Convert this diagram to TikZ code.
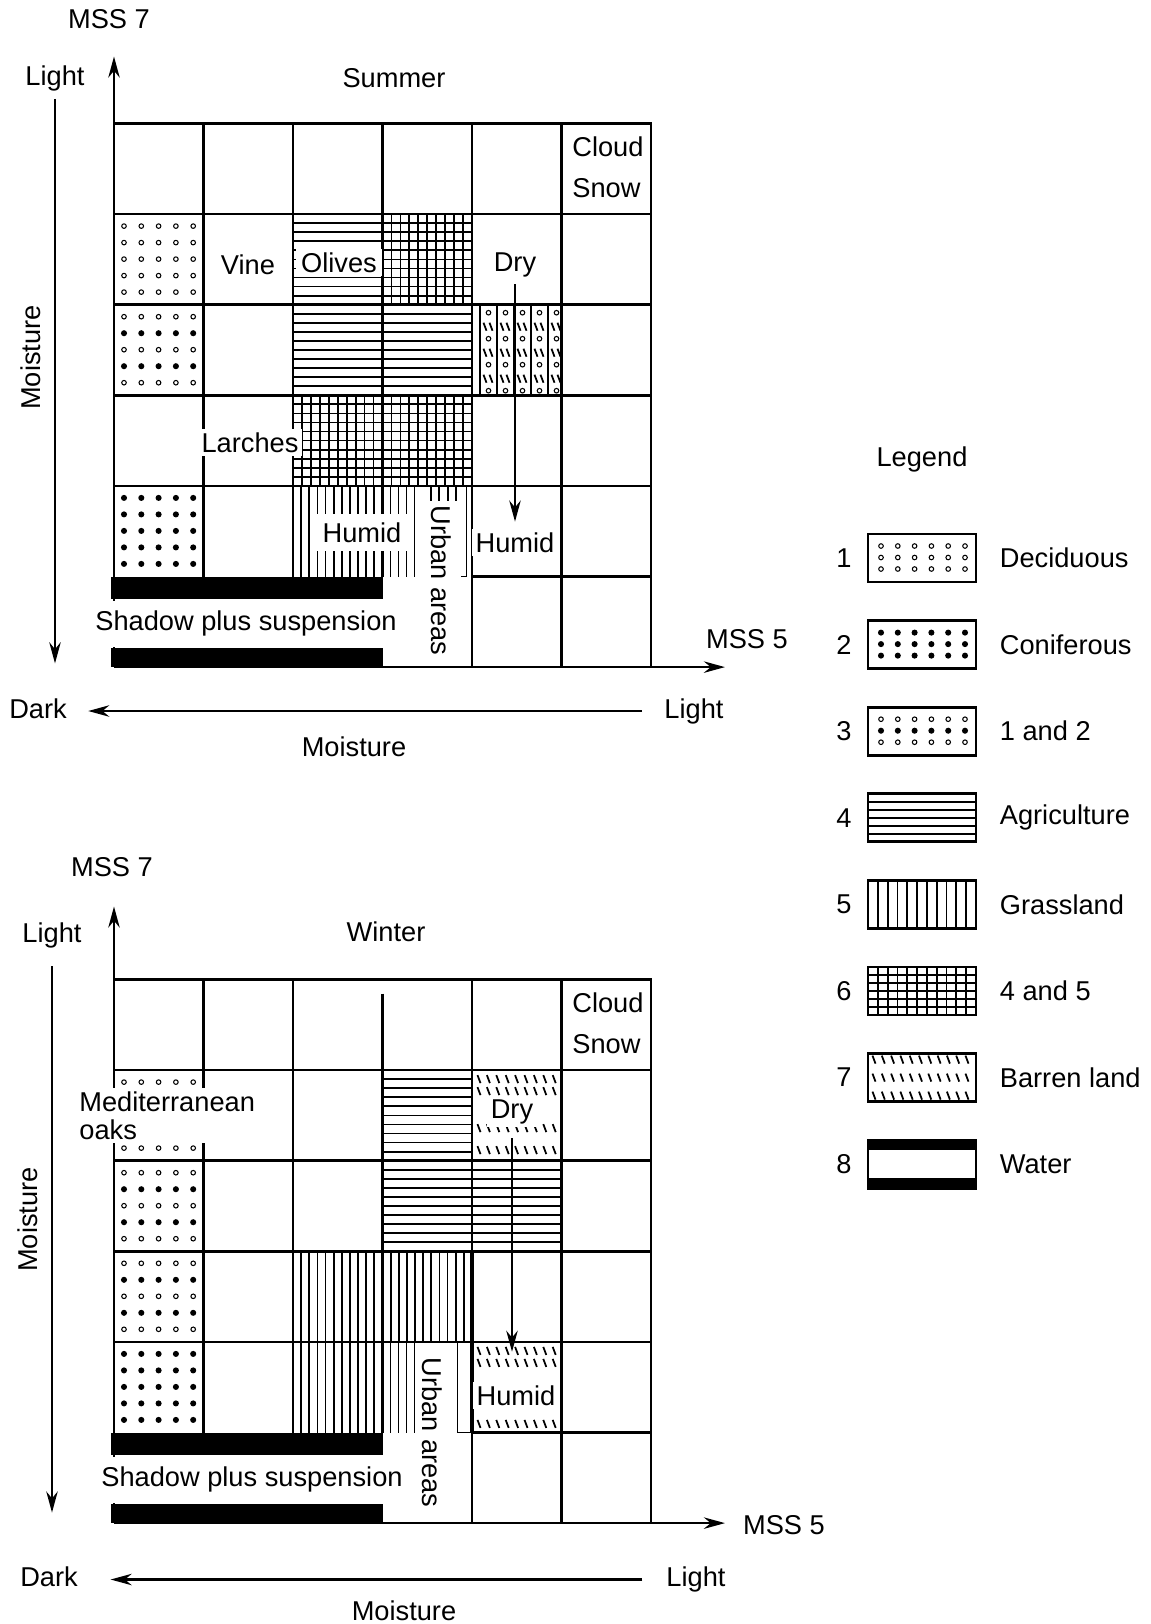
\documentclass[tikz,border=0pt]{standalone}
\usepackage{fontspec}
\setmainfont{Liberation Sans}
\usetikzlibrary{arrows.meta, positioning}

% size of one grid cell (both plots)
\newcommand{\cellw}{89.5}
\newcommand{\cellh}{90.6}

% fill helpers: x0 y0 x1 y1 n
\newcommand{\hpat}[5]{%
  \foreach \k in {1,...,#5}
    \draw[hatch] ({#1},{(#2)+((#4)-(#2))*\k/(#5+1)}) -- ({#3},{(#2)+((#4)-(#2))*\k/(#5+1)});}
\newcommand{\vpat}[5]{%
  \foreach \k in {1,...,#5}
    \draw[hatch] ({(#1)+((#3)-(#1))*\k/(#5+1)},{#2}) -- ({(#1)+((#3)-(#1))*\k/(#5+1)},{#4});}
% x0 y0 dx dy ncol nrow style
\newcommand{\dotpat}[7]{%
  \foreach \i in {1,...,#5}
    \foreach \j in {1,...,#6}
      \path[#7] ({(#1)+(#3)*(\i-1)},{(#2)+(#4)*(\j-1)}) circle (1.3pt);}
% x0 y0 dx ncol {row offsets}
\newcommand{\barpat}[5]{%
  \foreach \yy in {#5}
    \foreach \i in {1,...,#4}
      \draw[barren] ({(#1)+(#3)*(\i-1)-1.5},{(#2)+\yy-4}) -- ++(3,8);}

% whole cells, by column and row
\newcommand{\agricell}[2]{\hpat{#1*\cellw}{#2*\cellh}{(#1+1)*\cellw}{(#2+1)*\cellh}{9}}
\newcommand{\grasscell}[2]{\vpat{#1*\cellw}{#2*\cellh}{(#1+1)*\cellw}{(#2+1)*\cellh}{10}}
\newcommand{\crosscell}[2]{\agricell{#1}{#2}\vpat{#1*\cellw}{#2*\cellh}{(#1+1)*\cellw}{(#2+1)*\cellh}{9}}
\newcommand{\decidcell}[2]{\dotpat{#1*\cellw+10}{#2*\cellh+12}{17.3}{16.5}{5}{5}{opendot}}
\newcommand{\conifcell}[2]{\dotpat{#1*\cellw+10}{#2*\cellh+12}{17.3}{16.5}{5}{5}{filldot}}
\newcommand{\mixcell}[2]{\dotpat{#1*\cellw+10}{#2*\cellh+12}{17.3}{33}{5}{3}{opendot}%
  \dotpat{#1*\cellw+10}{#2*\cellh+28.5}{17.3}{33}{5}{2}{filldot}}

\begin{document}
\begin{tikzpicture}[x=0.02cm, y=-0.02cm, >=Stealth,
    font=\fontsize{15.5}{18.6}\selectfont,
    gridline/.style={line width=1.4pt},
    hatch/.style={line width=1pt},
    barren/.style={line width=1pt},
    opendot/.style={draw, line width=0.6pt},
    filldot/.style={draw, fill, line width=0.8pt},
    lbl/.style={inner sep=2pt},
    whitebox/.style={fill=white},
    axlbl/.style={text height=11.5pt, text depth=3.3pt},
    axisarrow/.style={line width=1.4pt, -{Stealth[length=12pt, width=6.5pt]}},
    flowarrow/.style={line width=1.4pt, -{Stealth[length=12pt, width=6.5pt]}},
    keybox/.style={draw, line width=1.6pt, minimum width=2.16cm, minimum height=0.96cm}]
  \useasboundingbox (0,0) rectangle (1151,1624);

  % Summer
  \begin{scope}[shift={(114,123.5)}]
    \decidcell{0}{1}
    \mixcell{0}{2}
    \conifcell{0}{4}
    \agricell{2}{1}
    \agricell{2}{2}
    \agricell{3}{2}
    \crosscell{3}{1}
    \crosscell{2}{3}
    \crosscell{3}{3}
    \grasscell{2}{4}
    \vpat{3*\cellw}{4*\cellh}{3*\cellw+40}{5*\cellh}{4}
    \vpat{3*\cellw+40}{4*\cellh}{3*\cellw+82}{4*\cellh+15}{4}
    \draw[hatch] ({3*\cellw+84},{4*\cellh}) -- ({3*\cellw+84},{5*\cellh}) -- ++(-6,0);
    % barren land with deciduous
    \foreach \k in {0,...,4}
      \draw[hatch] ({4*\cellw+8+17*\k},{2*\cellh}) -- ++(0,\cellh);
    \dotpat{4*\cellw+16.5}{2*\cellh+8}{17}{26}{5}{4}{opendot}
    \barpat{4*\cellw+13}{2*\cellh}{17}{5}{22,48,74}
    \barpat{4*\cellw+19}{2*\cellh}{17}{5}{22,48,74}

    % grid
    \draw[gridline] (0,0) -- ({6*\cellw},0) -- ({6*\cellw},{6*\cellh});
    \foreach \j in {1,...,4}
      \draw[gridline] (0,{\j*\cellh}) -- ({6*\cellw},{\j*\cellh});
    \draw[gridline] ({4*\cellw},{5*\cellh}) -- ({6*\cellw},{5*\cellh});
    \foreach \i in {1,2,3}
      \draw[gridline] ({\i*\cellw},0) -- ({\i*\cellw},{5*\cellh});
    \foreach \i in {4,5}
      \draw[gridline] ({\i*\cellw},0) -- ({\i*\cellw},{6*\cellh});

    % water
    \fill (-3,{5*\cellh}) rectangle ({3*\cellw},{5*\cellh+22});
    \fill (-3,{6*\cellh-19}) rectangle ({3*\cellw},{6*\cellh});

    % axes
    \coordinate (o1) at (0,{6*\cellh});
    \coordinate (ytip1) at (0,-67);
    \coordinate (xtip1) at (611,{6*\cellh});
    \draw[axisarrow] (o1) -- (ytip1);
    \draw[axisarrow] (o1) -- (xtip1);

    % cell labels
    \node[lbl, align=left, anchor=west, font=\fontsize{15.5}{23.2}\selectfont] (cloud1) at (454.5,43.5) {Cloud\\Snow};
    \node[lbl] (vine1) at (134,141) {Vine};
    \node[lbl, whitebox, inner xsep=3pt] (olives1) at (225,139) {Olives};
    \node[lbl, whitebox] (dry1) at (401,141) {Dry};
    \node[lbl, whitebox] (larch1) at (136,319) {Larches};
    \node[lbl, whitebox, inner xsep=6pt, inner ysep=5pt] (humid1) at (248,409) {Humid};
    \node[lbl, whitebox] (humid2) at (401,419) {Humid};
    \node[lbl, whitebox, rotate=-90] (urban1) at (327,457) {Urban areas};
    \node[lbl, whitebox, minimum height=0.92cm] (shadow1) at (132,500) {Shadow plus suspension};
    \draw[flowarrow, shorten <=2pt, shorten >=4pt] (dry1) -- (humid2);

    % axis labels
    \node[lbl] (mss7a) at (-5,-104) {MSS 7};
    \node[lbl, axlbl] (ylight1) at (-59,-45) {Light};
    \node[lbl] (summer) at (280,-45) {Summer};
    \node[lbl, rotate=90] (vmoist1) at (-83,234) {Moisture};
    \node[lbl] (mss5a) at (633,516) {MSS 5};
    \node[lbl, axlbl] (dark1) at (-76,587.5) {Dark};
    \node[lbl, axlbl] (xlight1) at (580,587.5) {Light};
    \node[lbl] (hmoist1) at (240,623) {Moisture};
    \draw[axisarrow, shorten <=10.5pt, shorten >=10pt] (xlight1) -- (dark1);
    \draw[axisarrow, shorten <=2pt, shorten >=17.5pt] (ylight1) -- (ylight1 |- dark1.north);
  \end{scope}

  % Winter
  \begin{scope}[shift={(114,979.5)}]
    \decidcell{0}{1}
    \mixcell{0}{2}
    \mixcell{0}{3}
    \conifcell{0}{4}
    \agricell{3}{1}
    \agricell{3}{2}
    \agricell{4}{2}
    \barpat{4*\cellw+7}{\cellh}{9.4}{9}{9,21,58,80}
    \barpat{4*\cellw+7}{4*\cellh}{9.4}{9}{9,21,82}
    \grasscell{2}{3}
    \grasscell{3}{3}
    \grasscell{2}{4}
    \vpat{3*\cellw}{4*\cellh}{3*\cellw+40}{5*\cellh}{4}
    \draw[hatch] ({3*\cellw+75},{4*\cellh}) -- ({3*\cellw+75},{5*\cellh}) -- ({4*\cellw},{5*\cellh});

    % grid
    \draw[gridline] (0,0) -- ({6*\cellw},0) -- ({6*\cellw},{6*\cellh});
    \foreach \j in {1,...,4}
      \draw[gridline] (0,{\j*\cellh}) -- ({6*\cellw},{\j*\cellh});
    \draw[gridline] ({4*\cellw},{5*\cellh}) -- ({6*\cellw},{5*\cellh});
    \foreach \i in {1,2}
      \draw[gridline] ({\i*\cellw},0) -- ({\i*\cellw},{5*\cellh});
    \draw[gridline] ({3*\cellw},14) -- ({3*\cellw},{5*\cellh});
    \foreach \i in {4,5}
      \draw[gridline] ({\i*\cellw},0) -- ({\i*\cellw},{6*\cellh});
    \draw[gridline, line width=2.2pt] ({4*\cellw},{3*\cellh}) -- ({4*\cellw},{5*\cellh});

    % water
    \fill (-3,{5*\cellh}) rectangle ({3*\cellw},{5*\cellh+22});
    \fill (-3,{6*\cellh-19}) rectangle ({3*\cellw},{6*\cellh});

    % axes
    \coordinate (o2) at (0,{6*\cellh});
    \coordinate (ytip2) at (0,-73);
    \coordinate (xtip2) at (611,{6*\cellh});
    \draw[axisarrow] (o2) -- (ytip2);
    \draw[axisarrow] (o2) -- (xtip2);

    % cell labels
    \node[lbl, align=left, anchor=west, font=\fontsize{15.5}{23.2}\selectfont] (cloud2) at (454.5,44) {Cloud\\Snow};
    \node[lbl, whitebox, align=left, anchor=west, font=\fontsize{15.5}{16}\selectfont] (oaks2) at (-38.5,136) {Mediterranean\\oaks};
    \node[lbl, whitebox] (dry2) at (398,132) {Dry};
    \node[lbl, whitebox] (humid3) at (402,416) {Humid};
    \node[lbl, whitebox, rotate=-90] (urban2) at (318,453) {Urban areas};
    \node[lbl, whitebox, minimum height=0.92cm] (shadow2) at (138,500) {Shadow plus suspension};
    \draw[flowarrow, shorten <=6pt, shorten >=17pt] (dry2) -- (dry2 |- humid3.north);

    % axis labels
    \node[lbl] (mss7b) at (-2,-112) {MSS 7};
    \node[lbl, axlbl] (ylight2) at (-62,-44) {Light};
    \node[lbl] (winter) at (272,-48) {Winter};
    \node[lbl, rotate=90] (vmoist2) at (-86,240) {Moisture};
    \node[lbl] (mss5b) at (670,546) {MSS 5};
    \node[lbl, axlbl] (dark2) at (-65,600) {Dark};
    \node[lbl, axlbl] (xlight2) at (582,600) {Light};
    \node[lbl] (hmoist2) at (290,631) {Moisture};
    \draw[axisarrow, shorten <=11.5pt, shorten >=16.5pt] (xlight2) -- (dark2);
    \draw[axisarrow, shorten <=8pt, shorten >=28.5pt] (ylight2) -- (ylight2 |- dark2.north);
  \end{scope}

  % Legend
  \node[lbl] (legend) at (922,459) {Legend};
  \dotpat{881}{546}{16.8}{11.5}{6}{3}{opendot}
  \dotpat{881}{632.6}{16.8}{11.5}{6}{3}{filldot}
  \dotpat{881}{719.2}{16.8}{23}{6}{2}{opendot}
  \dotpat{881}{730.7}{16.8}{11.5}{6}{1}{filldot}
  \hpat{868}{793.8}{976}{841.8}{5}
  \vpat{868}{880.4}{976}{928.4}{10}
  \hpat{868}{967}{976}{1015}{5}
  \vpat{868}{967}{976}{1015}{10}
  \barpat{874}{1053.6}{9.3}{11}{6,24,42}
  \fill (868,1140.2) rectangle (976,1150.2);
  \fill (868,1178.2) rectangle (976,1188.2);
  \foreach \lab [count=\i] in {Deciduous, Coniferous, 1 and 2, Agriculture, Grassland, 4 and 5, Barren land, Water}{
    \node[lbl] (num\i) at (844,{558+86.6*(\i-1)}) {\i};
    \node[keybox] (key\i) at (922,{558+86.6*(\i-1)}) {};
    \node[lbl, anchor=west] (name\i) at (996,{558+86.6*(\i-1)}) {\lab};
  }
\end{tikzpicture}
\end{document}
